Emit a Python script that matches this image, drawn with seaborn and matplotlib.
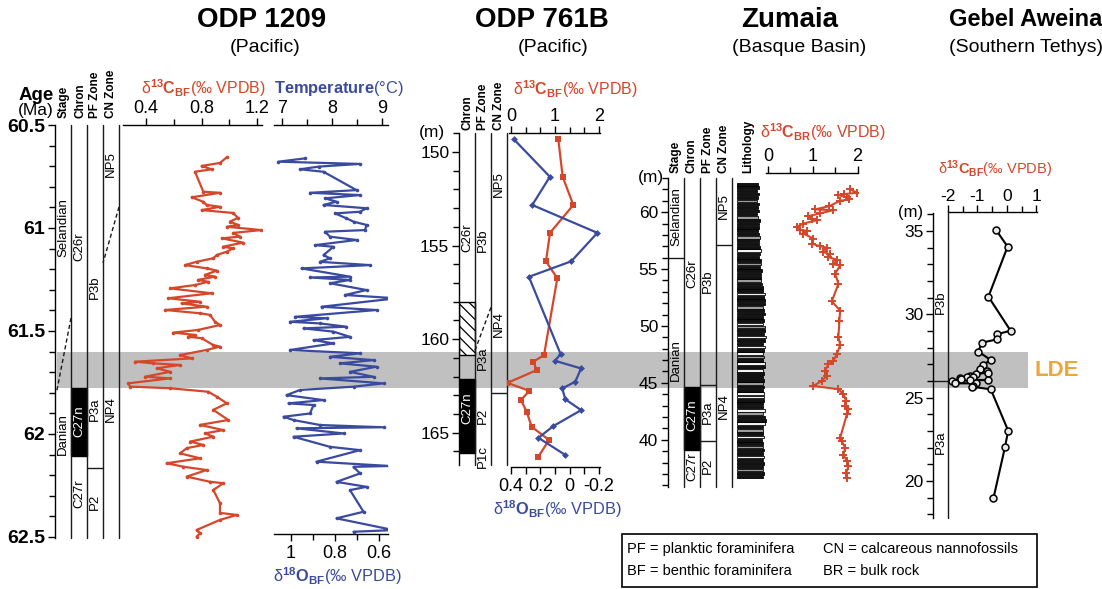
import matplotlib
matplotlib.use("Agg")
import matplotlib.pyplot as plt
import seaborn as sns
import pandas as pd
from matplotlib.patches import Rectangle
from matplotlib.ticker import FixedLocator, MultipleLocator

# ---------------------------------------------------------------- colours
RED = "#D5472B"
BLUE = "#3A4B9F"
LDE_COLOR = "#EFA53A"
BAND = "#C0C0C0"

# ---------------------------------------------------------------- ODP 1209 data
odp1209_c13_age = [60.657, 60.684, 60.699, 60.715, 60.727, 60.824, 60.829, 60.851, 60.872, 60.888,
                   60.897, 60.913, 60.927, 60.951, 60.969, 60.985, 60.994, 61.010, 61.024, 61.042,
                   61.050, 61.071, 61.091, 61.099, 61.115, 61.131, 61.147, 61.164, 61.180, 61.196,
                   61.207, 61.228, 61.236, 61.252, 61.261, 61.277, 61.293, 61.317, 61.341, 61.358,
                   61.366, 61.382, 61.398, 61.414, 61.422, 61.455, 61.471, 61.495, 61.508, 61.519,
                   61.528, 61.535, 61.568, 61.576, 61.592, 61.617, 61.633, 61.649, 61.657, 61.665,
                   61.681, 61.698, 61.722, 61.730, 61.754, 61.770, 61.778, 61.795, 61.819, 61.851,
                   61.883, 61.932, 61.956, 61.981, 61.997, 62.013, 62.037, 62.053, 62.069, 62.094,
                   62.118, 62.142, 62.159, 62.175, 62.207, 62.232, 62.239, 62.272, 62.336, 62.383,
                   62.393, 62.417, 62.466, 62.482, 62.498]
odp1209_c13 = [0.982, 0.933, 0.801, 0.873, 0.753, 0.813, 0.933, 0.729, 0.811, 0.837,
               0.933, 0.801, 1.027, 1.063, 1.005, 1.063, 0.982, 1.230, 1.027, 1.077,
               0.946, 1.099, 0.955, 1.027, 0.982, 0.910, 0.885, 0.765, 0.681, 0.837,
               0.910, 0.825, 0.897, 0.775, 0.847, 0.753, 0.573, 0.873, 0.561, 0.789,
               0.657, 0.837, 0.537, 0.789, 0.861, 0.897, 0.933, 0.775, 0.595, 0.753,
               0.703, 0.801, 0.883, 0.933, 0.837, 0.645, 0.729, 0.321, 0.450, 0.645,
               0.477, 0.573, 0.393, 0.573, 0.272, 0.285, 0.573, 0.849, 0.910, 0.982,
               0.885, 0.993, 0.789, 0.957, 0.825, 0.885, 0.717, 0.813, 0.693, 0.645,
               0.789, 0.549, 0.669, 0.837, 0.693, 0.861, 0.957, 0.885, 0.933, 0.933,
               1.054, 0.933, 0.765, 0.789, 0.765]
odp1209_temp_age = [60.662, 60.678, 60.689, 60.702, 60.715, 60.727, 60.816, 60.829, 60.840, 60.856,
                    60.872, 60.888, 60.904, 60.921, 60.929, 60.953, 60.969, 60.985, 61.010, 61.018,
                    61.042, 61.058, 61.083, 61.091, 61.131, 61.147, 61.164, 61.180, 61.196, 61.236,
                    61.240, 61.252, 61.268, 61.301, 61.325, 61.341, 61.382, 61.398, 61.431, 61.438,
                    61.455, 61.463, 61.479, 61.487, 61.503, 61.528, 61.544, 61.560, 61.592, 61.608,
                    61.625, 61.641, 61.657, 61.673, 61.698, 61.722, 61.730, 61.754, 61.770, 61.786,
                    61.811, 61.835, 61.851, 61.859, 61.900, 61.916, 61.932, 61.956, 61.967, 61.972,
                    61.997, 62.013, 62.062, 62.078, 62.134, 62.155, 62.159, 62.191, 62.232, 62.256,
                    62.272, 62.377, 62.409, 62.466, 62.474]
odp1209_temp = [7.46, 6.93, 8.56, 7.73, 7.36, 7.83, 8.49, 7.56, 8.56, 7.86,
                8.09, 7.83, 8.69, 8.56, 8.06, 8.29, 8.43, 8.69, 8.66, 7.86,
                7.96, 8.49, 7.66, 8.03, 7.83, 7.96, 7.76, 8.76, 7.39, 8.36,
                7.56, 8.36, 7.96, 8.69, 8.26, 9.29, 7.79, 8.89, 7.26, 7.89,
                7.16, 7.76, 8.29, 7.43, 8.03, 8.36, 7.63, 8.03, 7.16, 8.56,
                7.96, 8.83, 8.16, 8.89, 8.36, 8.83, 7.76, 9.03, 8.43, 7.36,
                7.09, 7.83, 7.13, 7.63, 7.56, 7.03, 7.23, 7.76, 9.03, 7.29,
                8.23, 7.23, 7.96, 8.56, 7.69, 9.16, 8.43, 8.56, 8.09, 8.69,
                8.36, 8.63, 8.09, 9.23, 8.43]
age_ticks = [60.5, 61.0, 61.5, 62.0, 62.5]
age_labels = ["60.5", "61", "61.5", "62", "62.5"]
c13_1209_ticks = [0.4, 0.8, 1.2]
c13_1209_labels = ["0.4", "0.8", "1.2"]
temp_ticks = [7, 8, 9]
temp_labels = ["7", "8", "9"]
o18_1209_ticks = [1.0, 0.8, 0.6]
o18_1209_labels = ["1", "0.8", "0.6"]
# (label, column, age); columns: 0 Stage, 1 Chron, 2 PF zone, 3 CN zone
odp1209_zones = [("Selandian", 0, 61.00), ("Danian", 0, 62.00), ("C26r", 1, 61.09),
                 ("C27r", 1, 62.29), ("P3b", 2, 61.29), ("P3a", 2, 61.88), ("P2", 2, 62.33),
                 ("NP5", 3, 60.69), ("NP4", 3, 61.88)]
odp1209_c27n = (61.777, 62.107)

# ---------------------------------------------------------------- ODP 761B data
odp761_c13_depth = [149.30, 151.32, 152.83, 154.32, 155.84, 156.75, 160.86, 161.21,
                    161.66, 162.34, 162.77, 163.26, 163.89, 164.69, 165.40, 166.29]
odp761_c13 = [1.075, 1.175, 1.416, 0.886, 0.795, 1.052, 0.750, 0.507,
              0.584, -0.08, 0.416, 0.227, 0.357, 0.470, 0.864, 0.620]
odp761_o18_depth = [149.32, 151.32, 152.83, 154.32, 155.84, 156.67, 160.80, 161.16,
                    161.57, 162.28, 162.64, 163.22, 163.80, 164.65, 165.28, 166.20]
odp761_o18 = [0.380, 0.135, 0.255, -0.189, -0.011, 0.278, 0.062, 0.100,
              -0.078, -0.038, 0.051, 0.029, -0.078, 0.111, 0.213, 0.029]
depth761_ticks = [150, 155, 160, 165]
c13_761_ticks = [0, 1, 2]
c13_761_minor = [1 / 3, 2 / 3, 4 / 3, 5 / 3]
o18_761_ticks = [0.4, 0.2, 0.0, -0.2]
o18_761_labels = ["0.4", "0.2", "0", "-0.2"]
o18_761_minor = [0.3, 0.1, -0.1]
# columns: 0 Chron, 1 PF zone, 2 CN zone
odp761_zones = [("C26r", 0, 154.6), ("P3b", 1, 154.7), ("P3a", 1, 161.0), ("P2", 1, 164.1),
                ("P1c", 1, 166.25), ("NP5", 2, 151.7), ("NP4", 2, 159.2)]
odp761_hatch = (158.0, 160.86)
odp761_c27n = (162.14, 166.1)

# ---------------------------------------------------------------- Zumaia data
zum_depth = [62.00, 61.70, 61.59, 61.50, 61.30, 61.12, 61.00, 60.53, 60.24, 60.18,
             59.89, 59.65, 59.44, 59.29, 59.00, 58.70, 58.47, 58.35, 58.12, 57.68,
             57.24, 57.00, 56.88, 56.50, 56.29, 56.05, 55.82, 55.41, 55.32, 54.59,
             53.71, 52.17, 51.35, 50.47, 49.06, 48.32, 47.53, 46.94, 46.65, 46.06,
             45.61, 45.17, 44.73, 44.44, 44.00, 43.41, 42.97, 42.68, 42.23, 40.17,
             39.88, 39.29, 38.70, 38.11, 37.67, 37.08, 36.64]
zum_c13 = [1.834, 1.998, 1.700, 1.573, 1.761, 1.819, 1.611, 1.371, 1.051, 1.461,
           1.163, 0.902, 0.978, 1.089, 0.790, 0.642, 0.716, 0.866, 0.790, 1.013,
           0.978, 1.163, 1.313, 1.237, 1.387, 1.349, 1.537, 1.461, 1.611, 1.499,
           1.573, 1.425, 1.611, 1.595, 1.573, 1.611, 1.537, 1.461, 1.349, 1.275,
           1.313, 1.201, 1.013, 1.573, 1.685, 1.745, 1.723, 1.796, 1.761, 1.611,
           1.649, 1.723, 1.685, 1.761, 1.796, 1.745, 1.774]
zum_depth_ticks = [40, 45, 50, 55, 60]
zum_c13_ticks = [0, 1, 2]
zum_c13_minor = [0.5, 1.5]
# columns: 0 Stage, 1 Chron, 2 PF zone, 3 CN zone
zum_zones = [("Selandian", 0, 59.65), ("Danian", 0, 47.0), ("C26r", 1, 54.6), ("C27r", 1, 37.6),
             ("P3b", 2, 53.9), ("P3a", 2, 42.4), ("P2", 2, 37.7), ("NP5", 3, 60.5), ("NP4", 3, 43.0)]
zum_c27n = (39.12, 44.68)
zum_bounds = [(0, 55.94), (2, 44.77), (2, 39.85), (3, 57.1)]
# lithology beds from base (36.6 m) to top (62.6 m): k = marl/black, g = grey, w = limestone
lith_base, lith_top = 36.6, 62.6
lith_codes = ("kkgkkkwkkgkkwkgkwkkgwkkkwwkkgkkkwkwkgwkwkkwkkgwk"
              "kkkgkkkwkkkgkkkkgkkkwkkkgkkkkkgkkkkgkkkkk")
lith_widths = [.80, .82, .79, .78, .83, .80, .82, .79, .82, .78,
               .80, .76, .82, .80, .78, .80, .86, .88, .85, .80,
               .84, .80, .79, .82, .81, .83, .80, .82, .80, .82,
               .78, .82, .80, .86, .84, .80, .82, .80, .82, .84,
               .80, .86, .88, .82, .86, .84, .80, .82, .80, .84,
               .82, .80, .84, .86, .82, .84, .80, .78, .76, .74,
               .72, .74, .76, .70, .72, .74, .68, .70, .72, .70,
               .66, .68, .70, .66, .64, .68, .66, .70, .64, .62,
               .66, .64, .68, .62, .64, .66, .62, .66, .64, .60]

# ---------------------------------------------------------------- Gebel Aweina data
geb_depth = [35.06, 34.06, 31.06, 29.02, 28.80, 28.50, 28.30, 27.76, 27.26, 26.96,
             26.70, 26.60, 26.50, 26.42, 26.30, 26.26, 26.22, 26.16, 26.10, 26.06,
             26.06, 26.02, 25.86, 25.86, 25.70, 25.66, 25.50, 23.02, 22.02, 18.96]
geb_c13 = [-0.37, 0.02, -0.63, 0.12, -0.35, -0.33, -0.86, -0.97, -0.55, -0.82,
           -0.92, -0.69, -0.63, -1.05, -1.25, -1.37, -1.14, -1.59, -1.57, -1.25,
           -0.63, -1.88, -1.76, -1.05, -1.14, -1.20, -0.55, 0.04, -0.07, -0.46]
geb_depth_ticks = [20, 25, 30, 35]
geb_c13_ticks = [-2, -1, 0, 1]
geb_c13_labels = ["-2", "-1", "0", "1"]
geb_c13_minor = [-1.5, -0.5, 0.5]
geb_zones = [("P3b", 0, 30.7), ("P3a", 0, 22.3)]
geb_bound = 26.0

# ---------------------------------------------------------------- style
sns.set_theme(style="ticks")
plt.rcParams.update({
    "font.family": ["Liberation Sans", "DejaVu Sans"],
    "mathtext.fontset": "custom",
    "mathtext.rm": "Liberation Sans",
    "mathtext.bf": "Liberation Sans:bold",
    "mathtext.it": "Liberation Sans:italic",
    "mathtext.sf": "Liberation Sans",
    "text.color": "black", "axes.edgecolor": "black",
    "xtick.color": "black", "ytick.color": "black",
    "axes.linewidth": 1.0, "hatch.linewidth": 0.9,
})

W, H = 1102, 589
fig = plt.figure(figsize=(W / 100, H / 100), dpi=100)
fig.patch.set_facecolor("white")


def add_ax(x0, y0, x1, y1):
    ax = fig.add_axes([x0 / W, 1 - y1 / H, (x1 - x0) / W, (y1 - y0) / H])
    ax.set_facecolor("none")
    for s in ax.spines.values():
        s.set_visible(False)
    ax.set_xticks([])
    ax.set_yticks([])
    ax.grid(False)
    return ax


def ftext(px, py, s, **kw):
    kw.setdefault("ha", "center")
    kw.setdefault("va", "center")
    fig.text(px / W, 1 - py / H, s, **kw)


def profile(ax, x, y, **kw):
    df = pd.DataFrame({"x": x, "y": y})
    sns.lineplot(data=df, x="x", y="y", sort=False, estimator=None, ax=ax, **kw)
    ax.set_xlabel("")
    ax.set_ylabel("")


def strat_axis(ax, ncol, ylim, ticks, labels, bold=False, fs=12):
    ax.set_xlim(0, ncol)
    ax.set_ylim(*ylim)
    ax.spines["left"].set_visible(True)
    ax.spines["left"].set_linewidth(1.0)
    ax.yaxis.set_ticks_position("left")
    ax.set_yticks(ticks)
    ax.set_yticklabels(labels, fontsize=fs, fontweight="bold" if bold else "normal")
    ax.tick_params(axis="y", which="major", direction="out", length=5, width=1, pad=2)
    ax.tick_params(axis="y", which="minor", direction="out", length=4, width=1)
    for c in range(1, ncol + 1):
        ax.axvline(c, color="k", lw=1, clip_on=False)


def top_axis(ax, xlim, ticks, labels, minor, fs=12.5):
    ax.set_xlim(*xlim)
    ax.spines["top"].set_visible(True)
    ax.xaxis.set_ticks_position("top")
    ax.set_xticks(ticks)
    ax.set_xticklabels(labels, fontsize=fs)
    ax.xaxis.set_minor_locator(FixedLocator(minor))
    ax.tick_params(axis="x", which="major", direction="out", length=5, width=1, pad=1,
                   top=True, bottom=False, labeltop=True, labelbottom=False)
    ax.tick_params(axis="x", which="minor", direction="out", length=4, width=1,
                   top=True, bottom=False)


def zone_labels(ax, zones):
    for name, col, pos in zones:
        ax.text(col + 0.5, pos, name, rotation=90, ha="center", va="center", fontsize=9.5)


def c_label(sub):
    return "δ" + r"$^{\mathbf{13}}\mathbf{C}_{\mathbf{" + sub + r"}}$" + "(‰ VPDB)"


O_LABEL = "δ" + r"$^{\mathbf{18}}\mathbf{O}_{\mathbf{BF}}$" + "(‰ VPDB)"

# ---------------------------------------------------------------- LDE band
fig.add_artist(Rectangle((57 / W, 1 - 388 / H), (1028 - 57) / W, 36 / H,
                         transform=fig.transFigure, facecolor=BAND, edgecolor="none", zorder=-5))

# ---------------------------------------------------------------- titles
title_kw = dict(fontsize=20, fontweight="bold")
ftext(262, 20, "ODP 1209", **title_kw)
ftext(265, 48, "(Pacific)", fontsize=14)
ftext(542, 20, "ODP 761B", **title_kw)
ftext(553, 48, "(Pacific)", fontsize=14)
ftext(790, 20, "Zumaia", **title_kw)
ftext(799, 48, "(Basque Basin)", fontsize=14)
ftext(1026, 20, "Gebel Aweina", fontsize=17, fontweight="bold")
ftext(1026, 48, "(Southern Tethys)", fontsize=14)

hdr_kw = dict(rotation=90, va="bottom", fontsize=8.5, fontweight="bold")

# ================================================================ ODP 1209
ax = add_ax(55, 125, 119, 538)
strat_axis(ax, 4, (62.505, 60.5), age_ticks, age_labels, bold=True, fs=14)
ax.yaxis.set_minor_locator(MultipleLocator(0.1))
ax.add_patch(Rectangle((1, odp1209_c27n[0]), 1, odp1209_c27n[1] - odp1209_c27n[0],
                       facecolor="black", edgecolor="black"))
zone_labels(ax, odp1209_zones)
ax.text(1.5, 61.94, "C27n", rotation=90, ha="center", va="center", fontsize=9.5, color="white")
ax.plot([2, 3], [62.165, 62.165], color="k", lw=1)
ax.plot([1, 0.1], [61.437, 61.796], color="k", lw=1, ls=(0, (3, 2)))
ax.plot([4, 3], [60.898, 61.17], color="k", lw=1, ls=(0, (3, 2)))
for px, s in [(63.5, "Stage"), (80, "Chron"), (95.5, "PF Zone"), (111, "CN Zone")]:
    ftext(px, 118, s, **hdr_kw)
ftext(36, 95, "Age", fontsize=13.5, fontweight="bold")
ftext(36, 111, "(Ma)", fontsize=12.5)

axc = add_ax(123, 125, 262, 538)
profile(axc, odp1209_c13, odp1209_c13_age, color=RED, linewidth=1.6, marker="o",
        markersize=2.6, markeredgewidth=0, markeredgecolor=RED)
axc.set_ylim(62.505, 60.5)
top_axis(axc, (0.234, 1.236), c13_1209_ticks, c13_1209_labels, [0.6, 1.0], fs=13)
axc.set_yticks([])
ftext(203, 88, c_label("BF"), color=RED, fontsize=11.5)

axt = add_ax(274, 125, 388, 534)
profile(axt, odp1209_temp, odp1209_temp_age, color=BLUE, linewidth=1.6, marker="o",
        markersize=2.6, markeredgewidth=0, markeredgecolor=BLUE)
axt.set_ylim(62.485, 60.5)
top_axis(axt, (6.84, 9.12), temp_ticks, temp_labels, [7.5, 8.5], fs=13)
axt.set_yticks([])


def t_to_d18o(t):
    return 1 - (t - 7.18) / 4.4


def d18o_to_t(d):
    return 7.18 + (1 - d) * 4.4


sec = axt.secondary_xaxis("bottom", functions=(t_to_d18o, d18o_to_t))
sec.set_xticks(o18_1209_ticks)
sec.set_xticklabels(o18_1209_labels, fontsize=13)
sec.xaxis.set_minor_locator(FixedLocator([0.9, 0.7]))
sec.tick_params(which="major", direction="out", length=5, width=1, pad=3)
sec.tick_params(which="minor", direction="out", length=4, width=1)
sec.spines["bottom"].set_linewidth(1.0)
ftext(339, 88, r"$\mathbf{Temperature}$" + "(°C)", color=BLUE, fontsize=11.8)
ftext(337, 576, O_LABEL, color=BLUE, fontsize=11.8)

# ================================================================ ODP 761B
ax = add_ax(459, 133, 507, 465)
strat_axis(ax, 3, (166.73, 148.98), depth761_ticks, [str(t) for t in depth761_ticks], fs=12.5)
ax.yaxis.set_minor_locator(MultipleLocator(1))
ax.add_patch(Rectangle((0, odp761_hatch[0]), 1, odp761_hatch[1] - odp761_hatch[0],
                       facecolor="white", edgecolor="black", hatch="\\\\\\", lw=1))
ax.add_patch(Rectangle((0, odp761_c27n[0]), 1, odp761_c27n[1] - odp761_c27n[0],
                       facecolor="black", edgecolor="black"))
zone_labels(ax, odp761_zones)
ax.text(0.5, 163.7, "C27n", rotation=90, ha="center", va="center", fontsize=9.5, color="white")
ax.plot([1, 2], [160.6, 158.3], color="k", lw=1, ls=(0, (3, 2)))
ax.plot([2, 3], [162.9, 162.9], color="k", lw=1)
ftext(432, 132, "(m)", fontsize=12.5)
for px, s in [(467.5, "Chron"), (483.5, "PF Zone"), (499, "CN Zone")]:
    ftext(px, 130, s, **hdr_kw)

axc2 = add_ax(507, 133, 600, 467)
profile(axc2, odp761_c13, odp761_c13_depth, color=RED, linewidth=1.6, marker="s",
        markersize=3.8, markeredgewidth=0, markeredgecolor=RED)
axc2.set_ylim(166.84, 148.98)
top_axis(axc2, (-0.091, 2.023), c13_761_ticks, ["0", "1", "2"], c13_761_minor, fs=13)
axc2.spines["top"].set_bounds(-0.05, 2.023)
axc2.set_yticks([])

axo = add_ax(507, 133, 600, 467)
profile(axo, odp761_o18, odp761_o18_depth, color=BLUE, linewidth=1.6, marker="D",
        markersize=3.5, markeredgewidth=0, markeredgecolor=BLUE)
axo.set_ylim(166.84, 148.98)
axo.set_xlim(0.4273, -0.2069)
axo.spines["bottom"].set_visible(True)
axo.spines["bottom"].set_bounds(0.4, -0.207)
axo.xaxis.set_ticks_position("bottom")
axo.set_xticks(o18_761_ticks)
axo.set_xticklabels(o18_761_labels, fontsize=13)
axo.xaxis.set_minor_locator(FixedLocator(o18_761_minor))
axo.tick_params(axis="x", which="major", direction="out", length=5, width=1, pad=3)
axo.tick_params(axis="x", which="minor", direction="out", length=5, width=1)
axo.set_yticks([])
ftext(575, 89, c_label("BF"), color=RED, fontsize=11.5)
ftext(557, 509, O_LABEL, color=BLUE, fontsize=11.8)

# ================================================================ Zumaia
ax = add_ax(668, 178, 732, 487)
strat_axis(ax, 4, (35.85, 63.0), zum_depth_ticks, [str(t) for t in zum_depth_ticks], fs=12.5)
ax.yaxis.set_minor_locator(MultipleLocator(1))
ax.add_patch(Rectangle((1, zum_c27n[0]), 1, zum_c27n[1] - zum_c27n[0],
                       facecolor="black", edgecolor="black"))
zone_labels(ax, zum_zones)
ax.text(1.5, 42.2, "C27n", rotation=90, ha="center", va="center", fontsize=9.5, color="white")
for col, pos in zum_bounds:
    ax.plot([col, col + 1], [pos, pos], color="k", lw=1)
ftext(651, 177, "(m)", fontsize=12.5)
for px, s in [(676, "Stage"), (692, "Chron"), (708, "PF Zone"), (724, "CN Zone"), (748, "Lithology")]:
    ftext(px, 173, s, **hdr_kw)

axl = add_ax(735, 178, 768, 487)
axl.set_xlim(0, 1)
axl.set_ylim(35.85, 63.0)
n_beds = min(len(lith_codes), len(lith_widths))
bed = (lith_top - lith_base) / n_beds
lith_map = {"k": "#121212", "g": "#9c9c9c", "w": "#f2f2f2"}
centers = [lith_base + bed * (i + 0.5) for i in range(n_beds)]
axl.barh(centers, lith_widths[:n_beds], height=bed * 0.78, left=0.06,
         color=[lith_map[c] for c in lith_codes[:n_beds]], edgecolor="black", linewidth=0.6)
axl.set_xticks([])
axl.set_yticks([])

axz = add_ax(766, 173, 858, 487)
profile(axz, zum_c13, zum_depth, color=RED, linewidth=1.5, marker="+",
        markersize=6, markeredgewidth=1.4, markeredgecolor=RED)
axz.set_ylim(35.85, 63.44)
top_axis(axz, (-0.045, 2.01), zum_c13_ticks, ["0", "1", "2"], zum_c13_minor, fs=13)
axz.set_yticks([])
ftext(823, 132, c_label("BR"), color=RED, fontsize=11.5)

# ================================================================ Gebel Aweina
ax = add_ax(933, 213, 948, 518)
strat_axis(ax, 1, (17.78, 36.08), geb_depth_ticks, [str(t) for t in geb_depth_ticks], fs=12.5)
ax.yaxis.set_minor_locator(MultipleLocator(1))
zone_labels(ax, geb_zones)
ax.plot([0, 1], [geb_bound, geb_bound], color="k", lw=1)
ftext(911, 212, "(m)", fontsize=12)

axg = add_ax(948, 212, 1037, 518)
profile(axg, geb_c13, geb_depth, color="black", linewidth=1.5, marker="o",
        markersize=5, markeredgewidth=1.1, markeredgecolor="black", markerfacecolor="#e8e8e8")
axg.set_ylim(17.78, 36.14)
top_axis(axg, (-2.0, 1.017), geb_c13_ticks, geb_c13_labels, geb_c13_minor, fs=12.5)
axg.set_yticks([])
ftext(995, 169, c_label("BF"), color=RED, fontsize=10.5)

ftext(1057, 371, "LDE", color=LDE_COLOR, fontsize=16, fontweight="bold")

# ================================================================ abbreviations box
fig.add_artist(Rectangle((622 / W, 1 - 587 / H), (1037 - 622) / W, 53 / H,
                         transform=fig.transFigure, facecolor="white", edgecolor="black", lw=1.2))
box_kw = dict(fontsize=10.5, ha="left")
ftext(627, 549, "PF = planktic foraminifera", **box_kw)
ftext(823, 549, "CN = calcareous nannofossils", **box_kw)
ftext(627, 571, "BF = benthic foraminifera", **box_kw)
ftext(823, 571, "BR = bulk rock", **box_kw)

fig.savefig("out.png", dpi=100)
